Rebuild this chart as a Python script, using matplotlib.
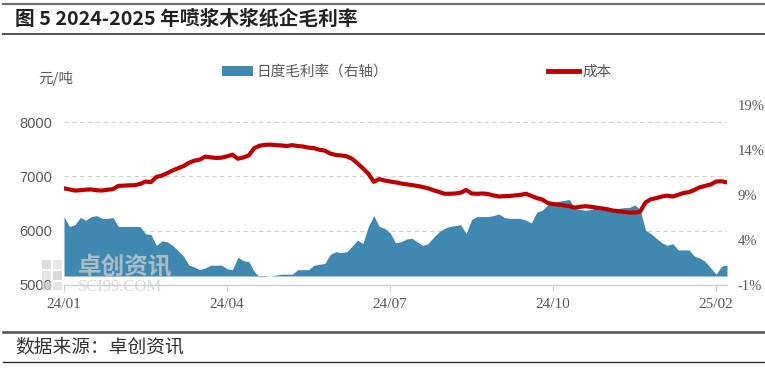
import matplotlib
matplotlib.use("Agg")
import matplotlib.pyplot as plt
from matplotlib.lines import Line2D
from matplotlib.patches import Patch, Rectangle
import numpy as np

# ---------------- data ----------------
cost = [6780, 6760, 6740, 6745, 6755, 6760, 6745, 6740, 6755, 6765,
        6825, 6830, 6835, 6838, 6860, 6905, 6895, 6990, 7015, 7060,
        7110, 7150, 7190, 7250, 7290, 7310, 7365, 7350, 7340, 7345,
        7370, 7400, 7325, 7350, 7385, 7520, 7565, 7580, 7585, 7575,
        7570, 7560, 7575, 7560, 7550, 7530, 7520, 7490, 7475, 7420,
        7395, 7385, 7370, 7325, 7240, 7150, 7050, 6900, 6950, 6925,
        6905, 6890, 6870, 6855, 6840, 6825, 6805, 6780, 6745, 6715,
        6680, 6680, 6685, 6700, 6750, 6685, 6680, 6685, 6675, 6650,
        6630, 6635, 6640, 6650, 6660, 6680, 6640, 6600, 6575, 6510,
        6490, 6480, 6465, 6450, 6425, 6440, 6450, 6440, 6425, 6410,
        6395, 6370, 6360, 6345, 6335, 6335, 6350, 6520, 6580, 6600,
        6630, 6645, 6630, 6660, 6695, 6710, 6750, 6800, 6825, 6850,
        6905, 6910, 6890]

margin = [6.6, 5.5, 5.7, 6.5, 6.2, 6.6, 6.7, 6.4, 6.4, 6.5,
          5.5, 5.5, 5.5, 5.5, 5.5, 4.7, 4.6, 3.4, 3.9, 3.8,
          3.4, 2.8, 2.2, 1.2, 1.0, 0.7, 0.9, 1.2, 1.2, 1.2,
          0.8, 0.7, 2.1, 1.7, 1.6, 0.5, -0.1, -0.05, 0.0, 0.1,
          0.2, 0.2, 0.2, 0.7, 0.7, 0.7, 1.2, 1.3, 1.4, 2.4,
          2.7, 2.6, 2.7, 3.3, 4.0, 3.6, 5.5, 6.7, 5.5, 5.3,
          4.8, 3.7, 3.8, 4.1, 4.2, 3.8, 3.4, 3.6, 4.3, 4.9,
          5.3, 5.5, 5.6, 5.7, 4.7, 6.3, 6.6, 6.6, 6.6, 6.7,
          6.9, 6.5, 6.4, 6.4, 6.4, 6.2, 5.9, 7.1, 7.3, 7.9,
          8.1, 8.3, 8.4, 8.5, 7.5, 7.4, 7.3, 7.4, 7.6, 7.5,
          7.4, 7.3, 7.5, 7.6, 7.6, 7.9, 7.4, 5.1, 4.7, 4.2,
          3.7, 3.4, 3.6, 2.9, 2.9, 2.9, 2.2, 2.0, 1.6, 0.9,
          0.2, 1.1, 1.2]

tick_pos = [0, 30, 60, 90, 120]
tick_labels = ['24/01', '24/04', '24/07', '24/10', '25/02']
left_ticks = [5000, 6000, 7000, 8000]
grid_vals = [6000, 7000, 8000]
right_ticks = [-1, 4, 9, 14, 19]
right_labels = ['-1%', '4%', '9%', '14%', '19%']

series_margin = '日度毛利率（右轴）'
series_cost = '成本'
title = '图 5 2024-2025 年喷浆木浆纸企毛利率'
source = '数据来源：卓创资讯'
unit = '元/吨'

# ---------------- styles ----------------
BLUE = '#3f89b1'
RED = '#c00000'
GREY = '#595959'
CJK = ['Noto Sans CJK SC', 'DejaVu Sans']

W, H = 765, 370
fig = plt.figure(figsize=(W / 100, H / 100), dpi=100)
fig.patch.set_facecolor('white')


def fx(x):
    return x / W


def fy(y):
    return 1 - y / H


L, R, T, B = 64, 727, 105, 285
rect = [fx(L), fy(B), (R - L) / W, (B - T) / H]

ax = fig.add_axes(rect)
ax2 = ax.twinx()
ax3 = fig.add_axes(rect, sharex=ax, sharey=ax)

x = np.arange(len(cost))

# left axis
ax.set_xlim(0, 122)
ax.set_ylim(5000, 5000 + (B - T) / 54.3 * 1000)
ax.set_yticks(left_ticks)
ax.set_yticklabels([str(v) for v in left_ticks], fontfamily='Liberation Sans',
                   fontsize=10.5, color=GREY)
ax.tick_params(axis='y', length=0, pad=8.5)
ax.set_xticks(tick_pos)
ax.set_xticklabels(tick_labels, fontfamily='Liberation Serif', fontsize=11, color=GREY)
ax.tick_params(axis='x', length=4, width=0.8, color='#d0d0d0', pad=5)
for v in grid_vals:
    ax.axhline(v, color='#d0d0d0', lw=0.8, ls=(0, (4, 3)), zorder=0)
for s in ['top', 'left', 'right']:
    ax.spines[s].set_visible(False)
ax.spines['bottom'].set_color('#d0d0d0')
ax.spines['bottom'].set_linewidth(1.0)

# right axis with area
ax2.fill_between(x, margin, 0, color=BLUE, linewidth=0, zorder=2)
ax2.set_ylim(-1, 19)
ax2.set_yticks(right_ticks)
ax2.set_yticklabels(right_labels, fontfamily='Liberation Serif', fontsize=10.5, color=GREY)
ax2.tick_params(axis='y', length=0, pad=7.5)
for s in ['top', 'left', 'right', 'bottom']:
    ax2.spines[s].set_visible(False)

# overlay axis with cost line
ax3.plot(x, cost, color=RED, lw=3.0, solid_joinstyle='round', solid_capstyle='round')
ax3.axis('off')
ax3.patch.set_visible(False)

# legend
handles = [Patch(facecolor=BLUE, edgecolor='none'),
           Line2D([], [], color=RED, lw=3.5)]
leg = fig.legend(handles, [series_margin, series_cost], loc='center',
                 bbox_to_anchor=(fx(417), fy(72)), ncol=2, frameon=False,
                 handlelength=2.1, handletextpad=0.25, columnspacing=11.0,
                 prop={'family': CJK, 'size': 10.5})
for t in leg.get_texts():
    t.set_color(GREY)

fig.text(fx(38), fy(79), unit, fontfamily=CJK, fontsize=10.5, color=GREY,
         ha='left', va='center')

# title and source
fig.text(fx(15), fy(19), title, fontfamily=CJK, fontsize=14.2, fontweight='bold',
         color='#222222', ha='left', va='center')
fig.text(fx(15), fy(347), source, fontfamily=CJK, fontsize=13.5, color='#333333',
         ha='left', va='center')

# rules
for yy, lw, c in [(3.5, 1.6, '#707070'), (34, 1.4, '#505050'),
                  (332, 1.8, '#505050'), (361.5, 1.0, '#303030')]:
    fig.add_artist(Line2D([fx(3), 1.0], [fy(yy), fy(yy)], color=c, lw=lw))

# watermark
for (rx, ry, rw, rh, col) in [(42, 260, 9, 9, '#d4d4d4'), (53, 260, 9, 9, '#e2e2e2'),
                              (42, 271, 9, 9, '#e0e0e0'), (53, 271, 9, 9, '#d0d0d0'),
                              (42, 282, 9, 8, '#c8c8c8'), (53, 282, 9, 8, '#dedede')]:
    fig.add_artist(Rectangle((fx(rx), fy(ry + rh)), rw / W, rh / H,
                             facecolor=col, edgecolor='none', alpha=0.8))
fig.text(fx(78), fy(267), '卓创资讯', fontfamily=CJK, fontsize=17, fontweight='bold',
         color='#cfcfcf', alpha=0.75, ha='left', va='center')
fig.text(fx(78), fy(287), 'SCI99.COM', fontfamily='Liberation Serif', fontsize=12,
         color='#cfcfcf', alpha=0.8, ha='left', va='center')

fig.savefig('out.png', dpi=100, facecolor='white')
